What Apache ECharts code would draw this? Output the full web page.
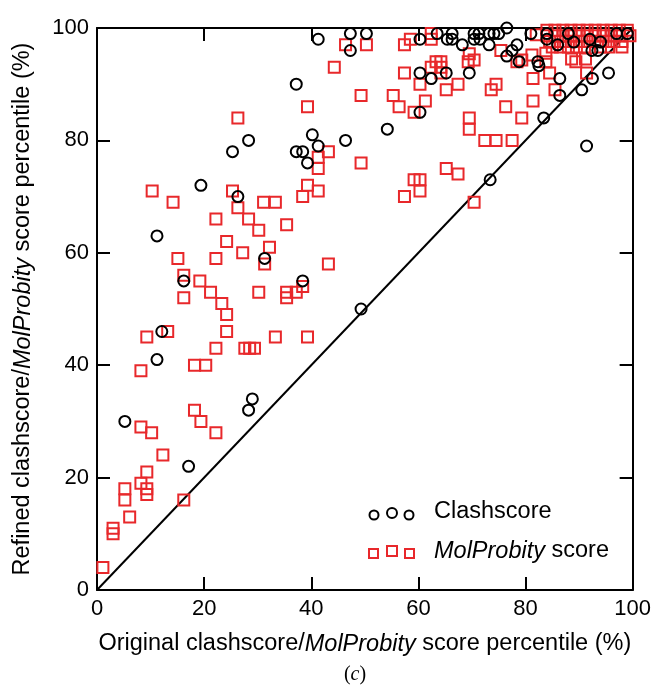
<!DOCTYPE html>
<html>
<head>
<meta charset="utf-8">
<script src="https://cdn.jsdelivr.net/npm/echarts@6/dist/echarts.min.js"></script>
<style>
html,body{margin:0;padding:0;background:#fff;}
#chart{width:654px;height:685px;}
</style>
</head>
<body>
<div id="chart"></div>
<script>
var xTicks = [0, 20, 40, 60, 80, 100];
var yTicks = [0, 20, 40, 60, 80, 100];

var clashscore = [
[5.2,30],[11.2,41],[12.1,46],[11.2,63],[16.2,55],[17.1,22],[19.4,72],[25.3,78],[26.3,70],
[28.3,80],[28.3,32],[29,34],[31.3,59],[37.2,90],[37.2,78],[38.4,78],[38.4,55],[39.3,76],
[40.2,81],[41.3,79],[41.3,98],[46.4,80],[47.3,99],[50.3,99],[47.3,96],[49.3,50],[54.2,82],
[60.3,98],[60.3,92],[60.3,85],[62.4,91],[63.5,99],[65.4,98],[65.2,92],[66.3,99],[66.3,98],
[68.2,97],[69.5,92],[70.4,99],[71.3,99],[70.4,98],[71.5,98],[73.2,99],[74.1,99],[75,99],
[73.2,97],[76.5,100],[76.5,95],[77.5,96],[78.4,97],[78.8,94],[81,99],[82.3,94],[82.5,93.3],
[83.4,84],[86.4,91],[86.4,88],[88,99],[90.5,89],[91.4,79],[92.5,91],[92.4,96],[93.5,96],
[95.5,92],[73.4,73],[99,99],[84,98],[86,97],[89,97.5],[84,99],[92,98],[94,97.5],[97,99]
];

var molprobity = [
[1.1,4],[3,11],[3,10],[5.2,18],[5.2,16],[6.1,13],[8.2,19],[9.3,18],[9.3,17],[9.3,21],
[12.3,24],[8.2,29],[10.2,28],[16.2,16],[18.2,32],[19.4,30],[22.2,28],[8.2,39],[9.3,45],
[13.2,46],[18.2,40],[20.3,40],[22.2,43],[27.6,43],[28.5,43],[29.4,43],[24.2,46],[24.2,49],
[23.3,51],[21.2,53],[16.2,52],[19.2,55],[16.2,56],[15.1,59],[22.2,59],[24.2,62],[27.2,60],
[30.2,64],[32.2,61],[31.3,58],[30.2,53],[22.2,66],[28.3,66],[14.2,69],[10.3,71],[25.3,71],
[26.3,68],[31.1,69],[33.3,69],[26.3,84],[35.4,65],[43.2,58],[38.4,54],[37.2,53],[35.4,53],
[35.4,52],[33.3,45],[39.3,45],[38.4,70],[39.3,72],[41.3,71],[41.3,75],[41.3,77],[43.2,78],
[39.3,86],[49.3,76],[44.3,93],[46.4,97],[50.3,97],[49.3,88],[55.3,88],[56.4,86],[57.4,92],
[57.4,97],[58.5,98],[59.2,85],[61.3,87],[60.3,90],[62.4,99],[62.4,98],[63.3,94],[62.4,93],
[64.2,93],[64.2,92],[65.2,89],[65.2,75],[59.2,73],[60.3,73],[60.3,71],[57.4,70],[64.2,94],
[67.4,90],[69.5,95.4],[70.4,94.3],[69.3,94],[69.5,84],[69.5,82],[70.4,69],[67.4,74],
[73.6,89],[74.5,90],[72.4,80],[74.5,80],[77.5,80],[75.4,96],[76.3,86],[79.3,84],[79.3,94.3],
[81.2,95.2],[78.4,94],[81.4,91],[81.4,87],[82,98.8],[84.5,92],[85.5,89],[89.4,94],[91.4,92],
[83.8,95.5],[83.8,94],[88.6,94.5],[91.2,94.5],[95.5,96.6],[98,96.6],
[84,99.6],[85.5,99.6],[87,99.6],[88.5,99.6],[90,99.6],[91.5,99.6],[93,99.6],[94.5,99.6],[96,99.6],[97.5,99.6],[99,99.6],
[84,98.6],[85.5,98.6],[87,98.6],[88.5,98.6],[90,98.6],[91.5,98.6],[93,98.6],[94.5,98.6],[96,98.6],[97.5,98.6],[99.5,98.6],
[84.5,97.6],[86,97.6],[87.5,97.6],[89,97.6],[90.5,97.6],[92,97.6],[93.5,97.6],[95,97.6],[96.5,97.6],[98,97.6],
[85,96.6],[86.5,96.6],[88,96.6],[89.5,96.6],[91,96.6],[94,96.6]
];

var diagonal = [[0,0],[100,100]];

var legendClash = 'Clashscore';
var legendMolItalic = 'MolProbity';
var legendMolRest = ' score';

var RED = '#e8282b';
var FONT = '"Liberation Sans", Arial, Helvetica, sans-serif';
var SERIF = '"Liberation Serif", "Times New Roman", serif';

var chart = echarts.init(document.getElementById('chart'), null, {renderer:'canvas'});

var axisCommon = {
  type: 'value', min: 0, max: 100, interval: 20,
  axisLine: {show: true, onZero: false, lineStyle: {color: '#000', width: 2}},
  axisTick: {show: true, inside: true, length: 13, lineStyle: {color: '#000', width: 2}},
  splitLine: {show: false}
};

var rich = {
  n: {fontFamily: FONT, fontSize: 23.5, color: '#000'},
  i: {fontFamily: FONT, fontSize: 23.5, color: '#000', fontStyle: 'italic'}
};

var option = {
  animation: false,
  backgroundColor: '#fff',
  grid: {left: 97, right: 20, top: 28, bottom: 95, containLabel: false},
  xAxis: [
    Object.assign({}, axisCommon, {
      position: 'bottom',
      axisLabel: {show: true, fontFamily: FONT, fontSize: 22, color: '#000', margin: 8,
        formatter: function(v){ return xTicks.indexOf(v) >= 0 ? String(v) : ''; }},
      name: '{n|Original clashscore/}{i|MolProbity}{n| score percentile (%)}',
      nameLocation: 'middle', nameGap: 42,
      nameTextStyle: {rich: rich}
    }),
    Object.assign({}, axisCommon, {position: 'top', axisLabel: {show: false}})
  ],
  yAxis: [
    Object.assign({}, axisCommon, {
      position: 'left',
      axisLabel: {show: true, fontFamily: FONT, fontSize: 22, color: '#000', margin: 8,
        formatter: function(v){ return yTicks.indexOf(v) >= 0 ? String(v) : ''; }},
      name: '{n|Refined clashscore/}{i|MolProbity}{n| score percentile (%)}',
      nameLocation: 'middle', nameGap: 62, nameRotate: 90,
      nameTextStyle: {rich: rich}
    }),
    Object.assign({}, axisCommon, {position: 'right', axisLabel: {show: false}})
  ],
  series: [
    {
      type: 'line', data: diagonal, symbol: 'none', silent: true,
      lineStyle: {color: '#000', width: 2}, z: 1
    },
    {
      type: 'scatter', name: 'MolProbity score', data: molprobity, symbol: 'rect', symbolSize: 11,
      itemStyle: {color: 'rgba(0,0,0,0)', borderColor: RED, borderWidth: 2, opacity: 1}, z: 2
    },
    {
      type: 'scatter', name: 'Clashscore', data: clashscore, symbol: 'circle', symbolSize: 11,
      itemStyle: {color: 'rgba(0,0,0,0)', borderColor: '#000', borderWidth: 2, opacity: 1}, z: 3
    }
  ],
  graphic: [
    {type: 'circle', shape: {cx: 374, cy: 515, r: 4.5}, style: {fill: 'none', stroke: '#000', lineWidth: 2}},
    {type: 'circle', shape: {cx: 392, cy: 513, r: 5}, style: {fill: 'none', stroke: '#000', lineWidth: 2}},
    {type: 'circle', shape: {cx: 409, cy: 515, r: 4.5}, style: {fill: 'none', stroke: '#000', lineWidth: 2}},
    {type: 'text', left: 434, top: 500, style: {text: legendClash, font: '23.5px ' + FONT, fill: '#000'}},
    {type: 'rect', shape: {x: 369, y: 549, width: 9, height: 9}, style: {fill: 'none', stroke: RED, lineWidth: 2}},
    {type: 'rect', shape: {x: 387, y: 546, width: 10, height: 10}, style: {fill: 'none', stroke: RED, lineWidth: 2}},
    {type: 'rect', shape: {x: 405, y: 549, width: 9, height: 9}, style: {fill: 'none', stroke: RED, lineWidth: 2}},
    {type: 'text', left: 434, top: 539, style: {
      text: '{i|' + legendMolItalic + '}{n|' + legendMolRest + '}',
      rich: rich}},
    {type: 'text', x: 355, y: 675, style: {
      text: '{p|(}{c|c}{p|)}', align: 'center', verticalAlign: 'middle',
      rich: {
        p: {fontFamily: SERIF, fontSize: 20, color: '#000'},
        c: {fontFamily: SERIF, fontSize: 20, color: '#000', fontStyle: 'italic'}
      }}}
  ]
};
chart.setOption(option);
</script>
</body>
</html>
